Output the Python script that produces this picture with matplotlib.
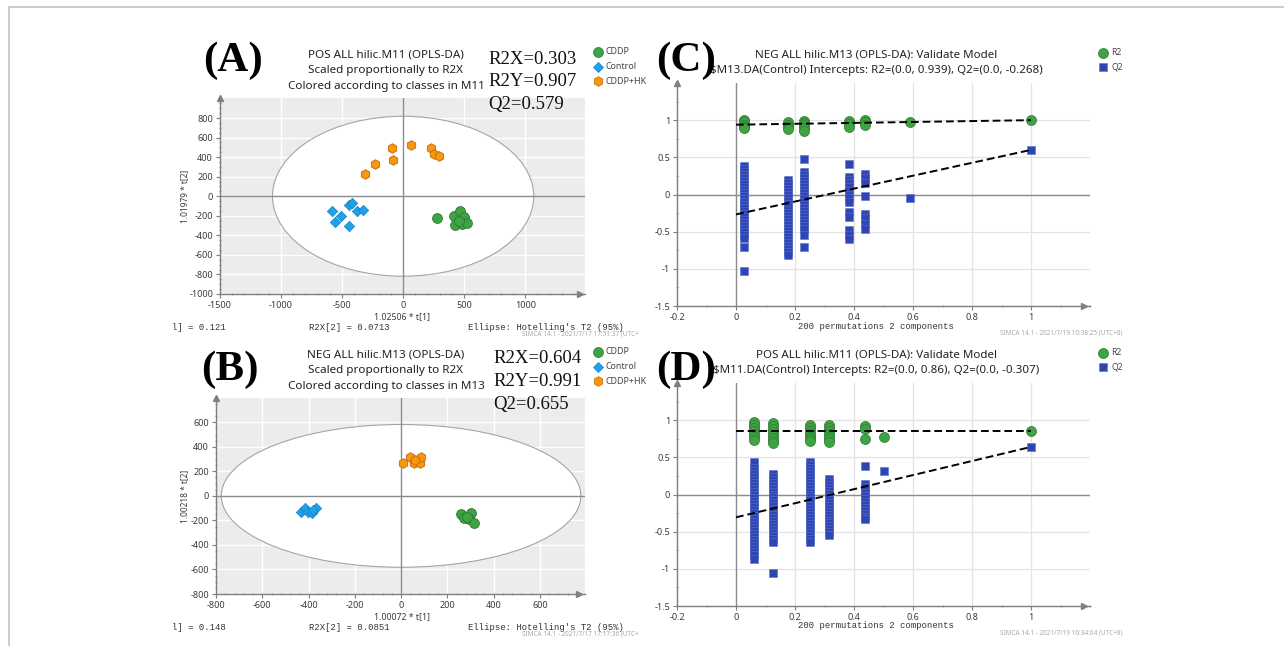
import matplotlib.pyplot as plt
from matplotlib.patches import Ellipse
from matplotlib.lines import Line2D
from matplotlib.ticker import MultipleLocator, FuncFormatter

plt.rcParams['font.family'] = ['Noto Sans', 'DejaVu Sans']
plt.rcParams['axes.unicode_minus'] = False

# ---- score plots (A, B) ----
a_xticks = [-1500, -1000, -500, 0, 500, 1000]
a_yticks = [-1000, -800, -600, -400, -200, 0, 200, 400, 600, 800]
a_cddp_x = [276, 413, 467, 495, 426, 481, 522, 454]
a_cddp_y = [-218, -205, -153, -211, -290, -280, -273, -256]
a_ctrl_x = [-579, -555, -508, -445, -415, -374, -328, -445]
a_ctrl_y = [-155, -259, -201, -85, -68, -150, -136, -300]
a_hk_x = [-309, -230, -93, -79, 66, 229, 257, 298]
a_hk_y = [232, 331, 494, 372, 525, 494, 433, 409]
a_ellipse = (1070, 818)

b_xticks = [-800, -600, -400, -200, 0, 200, 400, 600]
b_yticks = [-800, -600, -400, -200, 0, 200, 400, 600]
b_cddp_x = [258, 273, 302, 294, 316, 284]
b_cddp_y = [-150, -177, -136, -191, -223, -169]
b_ctrl_x = [-431, -416, -403, -384, -369, -380]
b_ctrl_y = [-128, -95, -128, -136, -101, -114]
b_hk_x = [10, 39, 56, 82, 88, 62]
b_hk_y = [267, 316, 267, 272, 319, 290]
b_ellipse = (777, 582)

# ---- permutation plots (C, D) ----
c_r2_x = [0.026, 0.176, 0.232, 0.383, 0.438, 0.59, 1.0]
c_r2 = [[1.0, 0.97, 0.94, 0.91, 0.89], [0.97, 0.94, 0.91, 0.88],
        [0.99, 0.96, 0.93, 0.89, 0.86], [0.99, 0.95, 0.91], [1.0, 0.97, 0.94],
        [0.97], [1.0]]
c_q2_x = [0.026, 0.176, 0.232, 0.383, 0.438, 0.59, 1.0]
c_q2 = [[0.38, 0.34, 0.3, 0.26, 0.22, 0.18, 0.14, 0.1, 0.06, 0.02, -0.02, -0.06,
         -0.1, -0.14, -0.18, -0.22, -0.26, -0.3, -0.34, -0.38, -0.42, -0.46,
         -0.5, -0.54, -0.58, -0.7, -1.03],
        [0.19, 0.15, 0.11, 0.07, 0.03, -0.01, -0.05, -0.09, -0.13, -0.17, -0.21,
         -0.25, -0.29, -0.33, -0.37, -0.41, -0.45, -0.49, -0.53, -0.57, -0.61,
         -0.65, -0.69, -0.73, -0.77, -0.81],
        [0.48, 0.3, 0.26, 0.22, 0.18, 0.14, 0.1, 0.06, 0.02, -0.02, -0.06, -0.1,
         -0.14, -0.18, -0.22, -0.26, -0.3, -0.34, -0.38, -0.42, -0.46, -0.55, -0.71],
        [0.41, 0.24, 0.2, 0.15, 0.1, 0.05, 0.0, -0.05, -0.1, -0.24, -0.3, -0.48,
         -0.55, -0.6],
        [0.28, 0.22, 0.15, -0.02, -0.26, -0.32, -0.4, -0.46],
        [-0.05],
        [0.6]]
c_r2_line = [0.939, 1.0]
c_q2_line = [-0.268, 0.6]

d_r2_x = [0.062, 0.124, 0.252, 0.314, 0.438, 0.5, 1.0]
d_r2 = [[0.97, 0.93, 0.89, 0.85, 0.81, 0.77, 0.73],
        [0.96, 0.92, 0.88, 0.84, 0.8, 0.76, 0.72, 0.69],
        [0.94, 0.9, 0.86, 0.82, 0.78, 0.74, 0.72],
        [0.94, 0.9, 0.86, 0.82, 0.78, 0.74, 0.7],
        [0.92, 0.88, 0.74], [0.77], [0.86]]
d_q2_x = [0.062, 0.124, 0.252, 0.314, 0.438, 0.5, 1.0]
d_q2 = [[0.44, 0.35, 0.31, 0.27, 0.23, 0.19, 0.15, 0.11, 0.07, 0.03, -0.01, -0.05,
         -0.09, -0.13, -0.17, -0.21, -0.25, -0.29, -0.33, -0.37, -0.41, -0.45,
         -0.49, -0.53, -0.57, -0.61, -0.65, -0.69, -0.73, -0.77, -0.81, -0.87],
        [0.28, 0.24, 0.2, 0.16, 0.12, 0.08, 0.04, 0.0, -0.04, -0.08, -0.12, -0.16,
         -0.2, -0.24, -0.28, -0.32, -0.36, -0.4, -0.44, -0.48, -0.52, -0.56,
         -0.6, -0.64, -1.05],
        [0.44, 0.4, 0.36, 0.32, 0.28, 0.24, 0.2, 0.16, 0.12, 0.08, 0.04, 0.0, -0.04,
         -0.08, -0.12, -0.16, -0.2, -0.24, -0.28, -0.32, -0.36, -0.4, -0.44,
         -0.48, -0.52, -0.56, -0.6, -0.64],
        [0.21, 0.17, 0.13, 0.09, 0.05, 0.01, -0.03, -0.07, -0.11, -0.15, -0.19,
         -0.23, -0.27, -0.31, -0.35, -0.39, -0.43, -0.47, -0.51, -0.55],
        [0.38, 0.14, 0.1, 0.06, 0.02, -0.02, -0.06, -0.1, -0.14, -0.18, -0.22,
         -0.26, -0.3, -0.33],
        [0.32], [0.64]]
d_r2_line = [0.86, 0.86]
d_q2_line = [-0.307, 0.64]

W, H = 1284, 646
fig = plt.figure(figsize=(12.84, 6.46), dpi=100)
fig.patch.set_facecolor('white')


def box(l, t, r, b):
    return [l / W, 1 - b / H, (r - l) / W, (b - t) / H]


def fx(x):
    return x / W


def fy(y):
    return 1 - y / H


GREEN = '#3fa344'
GREEN_E = '#2b7a30'
BLUE = '#1ea3e8'
BLUE_E = '#1580c0'
ORANGE = '#f7960f'
ORANGE_E = '#c26c00'
NAVY = '#2e45b3'
SPINE = '#7f7f7f'
TXT = '#3a3a3a'


def style_axes(ax, minor_x, minor_y):
    for s in ['top', 'right']:
        ax.spines[s].set_visible(False)
    for s in ['left', 'bottom']:
        ax.spines[s].set_color(SPINE)
        ax.spines[s].set_linewidth(1)
    ax.xaxis.set_minor_locator(MultipleLocator(minor_x))
    ax.yaxis.set_minor_locator(MultipleLocator(minor_y))
    ax.tick_params(which='major', labelsize=6.5, colors=SPINE, labelcolor=TXT,
                   length=3, width=0.8, pad=2)
    ax.tick_params(which='minor', colors=SPINE, length=2, width=0.6,
                   direction='inout')
    ax.set_axisbelow(True)
    ax.plot([0], [1], marker='^', markersize=5, color=SPINE,
            transform=ax.transAxes, clip_on=False, zorder=6)
    ax.plot([0.985], [0], marker='>', markersize=5, color=SPINE,
            transform=ax.transAxes, clip_on=False, zorder=6)


def score_panel(rect, xlim, ylim, xticks, yticks, ell, pts):
    ax = fig.add_axes(box(*rect))
    ax.set_facecolor('#ececec')
    ax.set_xlim(xlim)
    ax.set_ylim(ylim)
    ax.set_xticks(xticks)
    ax.set_yticks(yticks)
    ax.grid(True, color='white', lw=1)
    style_axes(ax, (xticks[1] - xticks[0]) / 5, (yticks[1] - yticks[0]) / 4)
    ax.add_patch(Ellipse((0, 0), 2 * ell[0], 2 * ell[1], facecolor='white',
                         edgecolor='#a5a5a5', lw=0.8, zorder=1))
    ax.axhline(0, color='#8c8c8c', lw=1, zorder=1.5)
    ax.axvline(0, color='#8c8c8c', lw=1, zorder=1.5)
    (gx, gy), (cx, cy), (hx, hy) = pts
    ax.scatter(hx, hy, marker='h', s=48, color=ORANGE, edgecolors=ORANGE_E,
               linewidths=0.6, zorder=3)
    ax.scatter(cx, cy, marker='D', s=28, color=BLUE, edgecolors=BLUE_E,
               linewidths=0.5, zorder=3)
    ax.scatter(gx, gy, marker='o', s=50, color=GREEN, edgecolors=GREEN_E,
               linewidths=0.6, zorder=3)
    return ax


def perm_panel(rect, r2x, r2, q2x, q2, r2line, q2line):
    ax = fig.add_axes(box(*rect))
    ax.set_facecolor('white')
    ax.set_xlim(-0.2, 1.2)
    ax.set_ylim(-1.5, 1.5)
    ax.set_xticks([-0.2, 0, 0.2, 0.4, 0.6, 0.8, 1])
    ax.set_yticks([-1.5, -1, -0.5, 0, 0.5, 1])
    fmt = FuncFormatter(lambda v, p: '%g' % round(v, 2))
    ax.xaxis.set_major_formatter(fmt)
    ax.yaxis.set_major_formatter(fmt)
    ax.grid(True, color='#e3e3e3', lw=0.9)
    style_axes(ax, 0.1, 0.25)
    ax.axhline(0, color='#8c8c8c', lw=1, zorder=1.5)
    ax.axvline(0, color='#8c8c8c', lw=1, zorder=1.5)
    for x, vals in zip(q2x, q2):
        ax.scatter([x] * len(vals), vals, marker='s', s=40, color=NAVY,
                   edgecolors='#5a70cc', linewidths=0.4, zorder=3)
    for x, vals in zip(r2x, r2):
        ax.scatter([x] * len(vals), vals, marker='o', s=52, color=GREEN,
                   edgecolors=GREEN_E, linewidths=0.5, zorder=4)
    ax.plot([0, 1], r2line, color='black', lw=1.4, ls=(0, (4, 2)), zorder=5)
    ax.plot([0, 1], q2line, color='black', lw=1.4, ls=(0, (4, 2)), zorder=5)
    return ax


score_panel((220, 98, 585, 294), (-1500, 1490), (-1000, 1005), a_xticks, a_yticks,
            a_ellipse, [(a_cddp_x, a_cddp_y), (a_ctrl_x, a_ctrl_y), (a_hk_x, a_hk_y)])
score_panel((216, 398, 585, 594), (-800, 795), (-800, 798), b_xticks, b_yticks,
            b_ellipse, [(b_cddp_x, b_cddp_y), (b_ctrl_x, b_ctrl_y), (b_hk_x, b_hk_y)])
perm_panel((677, 83, 1090, 306), c_r2_x, c_r2, c_q2_x, c_q2, c_r2_line, c_q2_line)
perm_panel((677, 383, 1090, 606), d_r2_x, d_r2, d_q2_x, d_q2, d_r2_line, d_q2_line)

# ---- texts of score panels ----
score_txt = [
    (0, 'POS ALL hilic.M11 (OPLS-DA)', 'M11', ['R2X=0.303', 'R2Y=0.907', 'Q2=0.579'],
     '1.02506 * t[1]', '1.01979 * t[2]', 'l] = 0.121', 'R2X[2] = 0.0713',
     'SIMCA 14.1 - 2021/7/17 17:51:37 (UTC+', '(A)', 488),
    (300, 'NEG ALL hilic.M13 (OPLS-DA)', 'M13', ['R2X=0.604', 'R2Y=0.991', 'Q2=0.655'],
     '1.00072 * t[1]', '1.00218 * t[2]', 'l] = 0.148', 'R2X[2] = 0.0851',
     'SIMCA 14.1 - 2021/7/17 17:17:36 (UTC+', '(B)', 493),
]
for dy, t1, mname, stats, xl, yl, r1, r2x2, stamp, tag, sx in score_txt:
    for i, line in enumerate([t1, 'Scaled proportionally to R2X',
                              'Colored according to classes in ' + mname]):
        fig.text(fx(386), fy(57.5 + dy + 16 * i), line, ha='center', va='baseline',
                 fontsize=8.4, color='#222222')
    for i, s in enumerate(stats):
        fig.text(fx(sx), fy(63.5 + dy + 22.5 * i), s, ha='left', va='baseline',
                 fontsize=13.5, family='Liberation Serif', color='#111111')
    fig.text(fx(233 if dy == 0 else 230), fy(61 + dy + (0 if dy == 0 else 9)), tag,
             ha='center', va='center', fontsize=31, fontweight='bold',
             family='Liberation Serif', color='black')
    leg = [('o', GREEN, GREEN_E, 'CDDP', 7.2), ('D', BLUE, BLUE_E, 'Control', 5.0),
           ('h', ORANGE, ORANGE_E, 'CDDP+HK', 7.0)]
    for i, (m, c, e, lab, ms) in enumerate(leg):
        yy = 52 + dy + 14.5 * i
        fig.add_artist(Line2D([fx(598)], [fy(yy)], marker=m, markersize=ms, color=c,
                              markeredgecolor=e, markeredgewidth=0.5, ls='none'))
        fig.text(fx(606), fy(yy), lab, ha='left', va='center', fontsize=6.4,
                 color='#444444')
    fig.text(fx(402), fy(317 + dy), xl, ha='center', va='center', fontsize=6.3,
             color=TXT)
    fig.text(fx(185), fy(196 + dy), yl, ha='center', va='center', fontsize=6,
             color=TXT, rotation=90)
    fig.text(fx(172), fy(327 + dy), r1, ha='left', va='center', fontsize=6.4,
             family='Liberation Mono', color='#333333')
    fig.text(fx(309), fy(327 + dy), r2x2, ha='left', va='center', fontsize=6.4,
             family='Liberation Mono', color='#333333')
    fig.text(fx(468), fy(327 + dy), "Ellipse: Hotelling's T2 (95%)", ha='left',
             va='center', fontsize=6.4, family='Liberation Mono', color='#333333')
    fig.text(fx(522), fy(334 + dy), stamp, ha='left', va='center', fontsize=4.6,
             color='#a8a8a8')

# ---- texts of permutation panels ----
perm_txt = [
    (0, 'NEG ALL hilic.M13 (OPLS-DA): Validate Model',
     '$M13.DA(Control) Intercepts: R2=(0.0, 0.939), Q2=(0.0, -0.268)',
     'SIMCA 14.1 - 2021/7/19 10:38:25 (UTC+8)', '(C)'),
    (300, 'POS ALL hilic.M11 (OPLS-DA): Validate Model',
     '$M11.DA(Control) Intercepts: R2=(0.0, 0.86), Q2=(0.0, -0.307)',
     'SIMCA 14.1 - 2021/7/19 10:34:04 (UTC+8)', '(D)'),
]
for dy, t1, t2, stamp, tag in perm_txt:
    fig.text(fx(876), fy(57.7 + dy), t1, ha='center', va='baseline', fontsize=8.3,
             color='#222222')
    fig.text(fx(876), fy(73.5 + dy), t2, ha='center', va='baseline', fontsize=8.3,
             color='#222222')
    fig.text(fx(686), fy(61 + dy + (0 if dy == 0 else 9)), tag, ha='center',
             va='center', fontsize=31, fontweight='bold', family='Liberation Serif',
             color='black')
    fig.add_artist(Line2D([fx(1103)], [fy(52.5 + dy)], marker='o', markersize=7.2,
                          color=GREEN, markeredgecolor=GREEN_E, markeredgewidth=0.5,
                          ls='none'))
    fig.add_artist(Line2D([fx(1103)], [fy(66.7 + dy)], marker='s', markersize=6,
                          color=NAVY, markeredgecolor='#5a70cc', markeredgewidth=0.4,
                          ls='none'))
    fig.text(fx(1111), fy(52.5 + dy), 'R2', ha='left', va='center', fontsize=6.2,
             color='#444444')
    fig.text(fx(1111), fy(66.7 + dy), 'Q2', ha='left', va='center', fontsize=6.2,
             color='#444444')
    fig.text(fx(876), fy(326 + dy), '200 permutations 2 components', ha='center',
             va='center', fontsize=6.4, family='Liberation Mono', color='#333333')
    fig.text(fx(1000), fy(333.5 + dy), stamp, ha='left', va='center', fontsize=4.6,
             color='#a8a8a8')

# frame around the figure
fig.add_artist(Line2D([fx(9), fx(1284)], [fy(7), fy(7)], color='#c4c4c4', lw=1.2))
fig.add_artist(Line2D([fx(9), fx(9)], [fy(7), fy(646)], color='#c4c4c4', lw=1.2))

plt.savefig('out.png', dpi=100)
